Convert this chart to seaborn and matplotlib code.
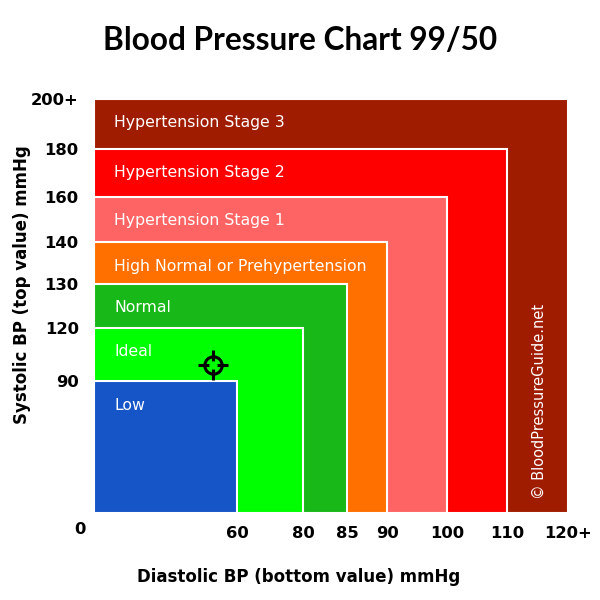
import numpy as np
import seaborn as sns
import matplotlib.pyplot as plt

# zones, from smallest to largest
zones = ['Low', 'Ideal', 'Normal', 'High Normal or Prehypertension',
         'Hypertension Stage 1', 'Hypertension Stage 2', 'Hypertension Stage 3']
diastolic_max = [60, 80, 85, 90, 100, 110, 120]
systolic_max = [90, 120, 130, 140, 160, 180, 200]
zone_colors = ['#1555c8', '#00ff00', '#18b818', '#ff7000',
               '#ff6464', '#ff0000', '#a01c00']
x_labels = ['60', '80', '85', '90', '100', '110', '120+']
y_labels = ['90', '120', '130', '140', '160', '180', '200+']

reading_sys = 99
reading_dia = 50

sns.set_style('white')
plt.rcParams['font.family'] = ['DejaVu Sans']
plt.rcParams['text.color'] = 'black'
plt.rcParams['xtick.color'] = 'black'
plt.rcParams['ytick.color'] = 'black'

# piecewise axis scales (uneven spacing of the bands)
xb = [0, 60, 80, 85, 90, 100, 110, 120]
xp = [0, 143, 209, 253, 293, 353, 413, 474]
yb = [0, 90, 120, 130, 140, 160, 180, 200]
yp = [0, 132, 185, 229, 271, 316, 364, 414]

fig = plt.figure(figsize=(6, 6), dpi=100)
ax = fig.add_axes([94/600, 1-513/600, 474/600, 414/600])
ax.set_xscale('function', functions=(lambda v: np.interp(v, xb, xp),
                                     lambda v: np.interp(v, xp, xb)))
ax.set_yscale('function', functions=(lambda v: np.interp(v, yb, yp),
                                     lambda v: np.interp(v, yp, yb)))

# nested rectangles, biggest first
for name, d, s, c in reversed(list(zip(zones, diastolic_max, systolic_max, zone_colors))):
    ax.bar(0, s, width=d, align='edge', color=c, edgecolor='white', linewidth=1.5)
    ax.annotate(name, (0, s), xytext=(20, -24), textcoords='offset pixels',
                color='white', fontsize=11.3, ha='left', va='center')

# reading marker
ax.plot(reading_dia, reading_sys, marker='+', markersize=22, mew=2.2, color='black')
ax.plot(reading_dia, reading_sys, marker='o', markersize=12.5, mfc='none', mew=2.2, color='black')
ax.plot(reading_dia, reading_sys, marker='o', markersize=6, mew=0, color='#00ff00')

ax.set_xlim(0, 120)
ax.set_ylim(0, 200)
ax.set_xticks(diastolic_max)
ax.set_xticklabels(x_labels, fontsize=11.8, fontweight='bold')
ax.set_yticks(systolic_max)
ax.set_yticklabels(y_labels, fontsize=11.8, fontweight='bold')
ax.tick_params(axis='x', length=0, pad=9)
ax.tick_params(axis='y', length=0, pad=11)
sns.despine(ax=ax, left=True, bottom=True)
ax.annotate('0', (0, 0), xytext=(-14, -17), textcoords='offset pixels',
            fontsize=11.8, fontweight='bold', ha='center', va='center')

ax.annotate('© BloodPressureGuide.net', (115, 0), xytext=(2, 14), textcoords='offset pixels',
            color='white', fontsize=10.5, rotation=90, ha='center', va='bottom')

fig.text(0.5, 1-40/600, 'Blood Pressure Chart 99/50', ha='center', va='center',
         fontsize=22.8, fontweight='bold', family='Lato')
fig.text(299/600, 1-577/600, 'Diastolic BP (bottom value) mmHg', ha='center', va='center',
         fontsize=12, fontweight='bold')
fig.text(22/600, 1-285/600, 'Systolic BP (top value) mmHg', ha='center', va='center',
         fontsize=12, fontweight='bold', rotation=90)

plt.savefig('out.png', dpi=100)
